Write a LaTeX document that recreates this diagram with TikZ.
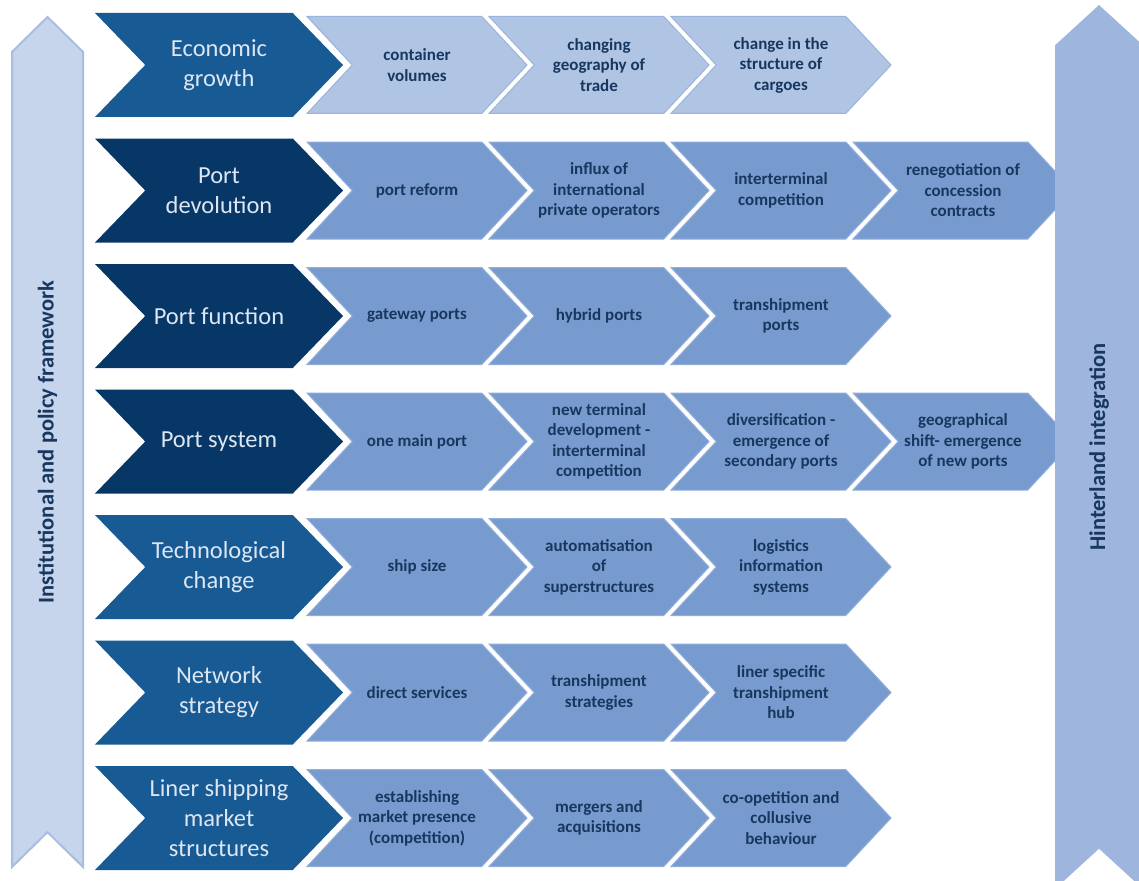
\documentclass[tikz,border=0pt]{standalone}
\usepackage{fontspec}
\setmainfont{Carlito}
\usetikzlibrary{shapes.symbols}

\definecolor{driverblue}{HTML}{175A94}
\definecolor{drivernavy}{HTML}{073766}
\definecolor{drivertext}{HTML}{DDE6F2}
\definecolor{stagepale}{HTML}{B0C4E4}
\definecolor{stagepaleedge}{HTML}{9CB3DB}
\definecolor{stagemid}{HTML}{789BCF}
\definecolor{stagemidedge}{HTML}{91AEDB}
\definecolor{stagetext}{HTML}{17375F}
\definecolor{framefill}{HTML}{C6D4EC}
\definecolor{frameedge}{HTML}{A8BDE0}
\definecolor{hinterfill}{HTML}{9EB5DE}

\begin{document}
\begin{tikzpicture}[
    x=1pt,y=-1pt,
    chevron/.style={signal,signal to=east,signal from=west,inner sep=0pt,align=center},
    driver/.style={chevron,minimum width=248pt,minimum height=104pt,signal pointer angle=92,
      text=drivertext,font=\fontsize{24.5}{30}\selectfont},
    driverblue/.style={driver,fill=driverblue},
    drivernavy/.style={driver,fill=drivernavy},
    stage/.style={chevron,minimum width=220pt,minimum height=97pt,signal pointer angle=94,
      draw,line width=1pt,text=stagetext,font=\bfseries\fontsize{17}{20.5}\selectfont},
    stagepale/.style={stage,fill=stagepale,draw=stagepaleedge},
    stagemid/.style={stage,fill=stagemid,draw=stagemidedge},
    band/.style={chevron,rotate=90,text=stagetext,font=\bfseries\fontsize{22.5}{27}\selectfont}
    ]

    \useasboundingbox (0,0) rectangle (1139,880);
    \clip (0,0) rectangle (1139,880);

    \node(framework) [band,minimum width=850pt,minimum height=71pt,signal pointer angle=91,
      fill=framefill,draw=frameedge,line width=2pt] at (47.5,442) {Institutional and policy framework};

    \node(eco) [driverblue] at (219,65) {Economic\\growth};
    \node(eco_1) [stagepale] at (417,65) {container\\volumes};
    \node(eco_2) [stagepale] at (599,65) {changing\\geography of\\trade};
    \node(eco_3) [stagepale] at (781,65) {change in the\\structure of\\cargoes};

    \node(dev) [drivernavy] at (219,190.5) {Port\\devolution};
    \node(dev_1) [stagemid] at (417,190.5) {port reform};
    \node(dev_2) [stagemid] at (599,190.5) {influx of\\international\\private operators};
    \node(dev_3) [stagemid] at (781,190.5) {interterminal\\competition};
    \node(dev_4) [stagemid] at (963,190.5) {renegotiation of\\concession\\contracts};

    \node(fun) [drivernavy] at (219,316) {Port function};
    \node(fun_1) [stagemid] at (417,316) {gateway ports};
    \node(fun_2) [stagemid] at (599,316) {hybrid ports};
    \node(fun_3) [stagemid] at (781,316) {transhipment\\ports};

    \node(sys) [drivernavy] at (219,441.5) {Port system};
    \node(sys_1) [stagemid] at (417,441.5) {one main port};
    \node(sys_2) [stagemid] at (599,441.5) {new terminal\\development -\\interterminal\\competition};
    \node(sys_3) [stagemid] at (781,441.5) {diversification -\\emergence of\\secondary ports};
    \node(sys_4) [stagemid] at (963,441.5) {geographical\\shift- emergence\\of new ports};

    \node(tec) [driverblue] at (219,567) {Technological\\change};
    \node(tec_1) [stagemid] at (417,567) {ship size};
    \node(tec_2) [stagemid] at (599,567) {automatisation\\of\\superstructures};
    \node(tec_3) [stagemid] at (781,567) {logistics\\information\\systems};

    \node(net) [driverblue] at (219,692.5) {Network\\strategy};
    \node(net_1) [stagemid] at (417,692.5) {direct services};
    \node(net_2) [stagemid] at (599,692.5) {transhipment\\strategies};
    \node(net_3) [stagemid] at (781,692.5) {liner specific\\transhipment\\hub};

    \node(lin) [driverblue] at (219,818) {Liner shipping\\market\\structures};
    \node(lin_1) [stagemid] at (417,818) {establishing\\market presence\\(competition)};
    \node(lin_2) [stagemid] at (599,818) {mergers and\\acquisitions};
    \node(lin_3) [stagemid] at (781,818) {co-opetition and\\collusive\\behaviour};

    \node(hinterland) [band,minimum width=884pt,minimum height=88pt,signal pointer angle=95,
      fill=hinterfill] at (1099,447) {Hinterland integration};

\end{tikzpicture}
\end{document}
